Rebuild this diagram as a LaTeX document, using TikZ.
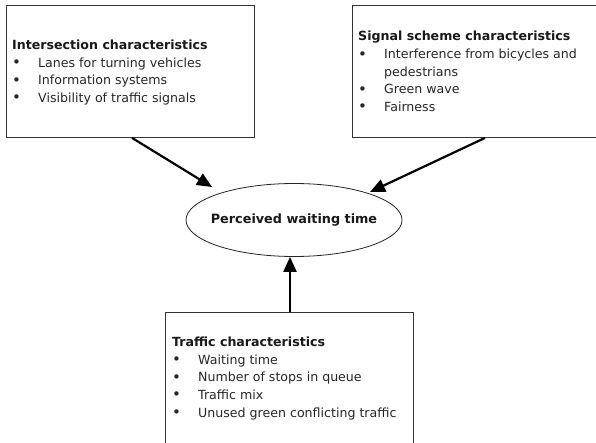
\documentclass[tikz,border=0pt]{standalone}
\usepackage{fontspec}
\setmainfont{DejaVu Sans}
\usetikzlibrary{arrows.meta,shapes.geometric,calc}
\newcommand{\blt}{\makebox[26pt][l]{\raisebox{-0.3pt}{\fontsize{15}{15}\selectfont •}}}
\begin{document}
\begin{tikzpicture}[x=1pt,y=-1pt,
  box/.style={draw=black!80, line width=0.9pt, minimum width=248pt, minimum height=132pt, inner sep=0pt, anchor=north west},
  txt/.style={anchor=base west, inner sep=0pt, font=\fontsize{12.6}{14}\selectfont, text=black!85},
  ttl/.style={anchor=base west, inner sep=0pt, font=\fontsize{12.6}{14}\selectfont\bfseries, text=black!90},
  arr/.style={line width=2.2pt, black, -{Triangle[length=15pt,width=13pt]}},
  ellnode/.style={ellipse, draw=black!85, line width=0.8pt, minimum width=216pt, minimum height=73pt, inner sep=0pt},
  elltext/.style={inner sep=0pt, font=\fontsize{12.8}{14}\selectfont\bfseries, text=black!90}]
\useasboundingbox (0,0) rectangle (596,443);
\clip (0,0) rectangle (596,443);
\fill[white] (0,0) rectangle (596,443);

% boxes
\node[box] (b1) at (6,5) {};
\node[box] (b2) at (352,5) {};
\node[box] (b3) at (165,312) {};
\node[ellnode] (ell) at (294,220) {};
\node[elltext] (ellt) at (ell.center) {Perceived waiting time};

% box 1 text
\node[ttl] (b1t) at (12,49.5) {Intersection characteristics};
\foreach [count=\i] \t in {Lanes for turning vehicles, Information systems, Visibility of traffic signals}
  \node[txt] (b1i\i) at (12,{49.5+17.7*\i}) {\blt\t};

% box 2 text
\node[ttl] (b2t) at (358,40.5) {Signal scheme characteristics};
\node[txt] (b2i1) at (358,59) {\blt Interference from bicycles and};
\node[txt] (b2i1b) at (384,76.5) {pedestrians};
\node[txt] (b2i2) at (358,94) {\blt Green wave};
\node[txt] (b2i3) at (358,111.5) {\blt Fairness};

% box 3 text
\node[ttl] (b3t) at (172,346.5) {Traffic characteristics};
\foreach [count=\i] \t in {Waiting time, Number of stops in queue, Traffic mix, Unused green conflicting traffic}
  \node[txt] (b3i\i) at (172,{346.5+17.7*\i}) {\blt\t};

% arrows
\draw[arr] ([xshift=126pt]b1.south west) -- ([shift={(-82,-33)}]ell.center);
\draw[arr] ([xshift=133pt]b2.south west) -- ([shift={(76,-28)}]ell.center);
\draw[arr] ([xshift=125pt]b3.north west) -- ([xshift=-4pt]ell.south);
\end{tikzpicture}
\end{document}
